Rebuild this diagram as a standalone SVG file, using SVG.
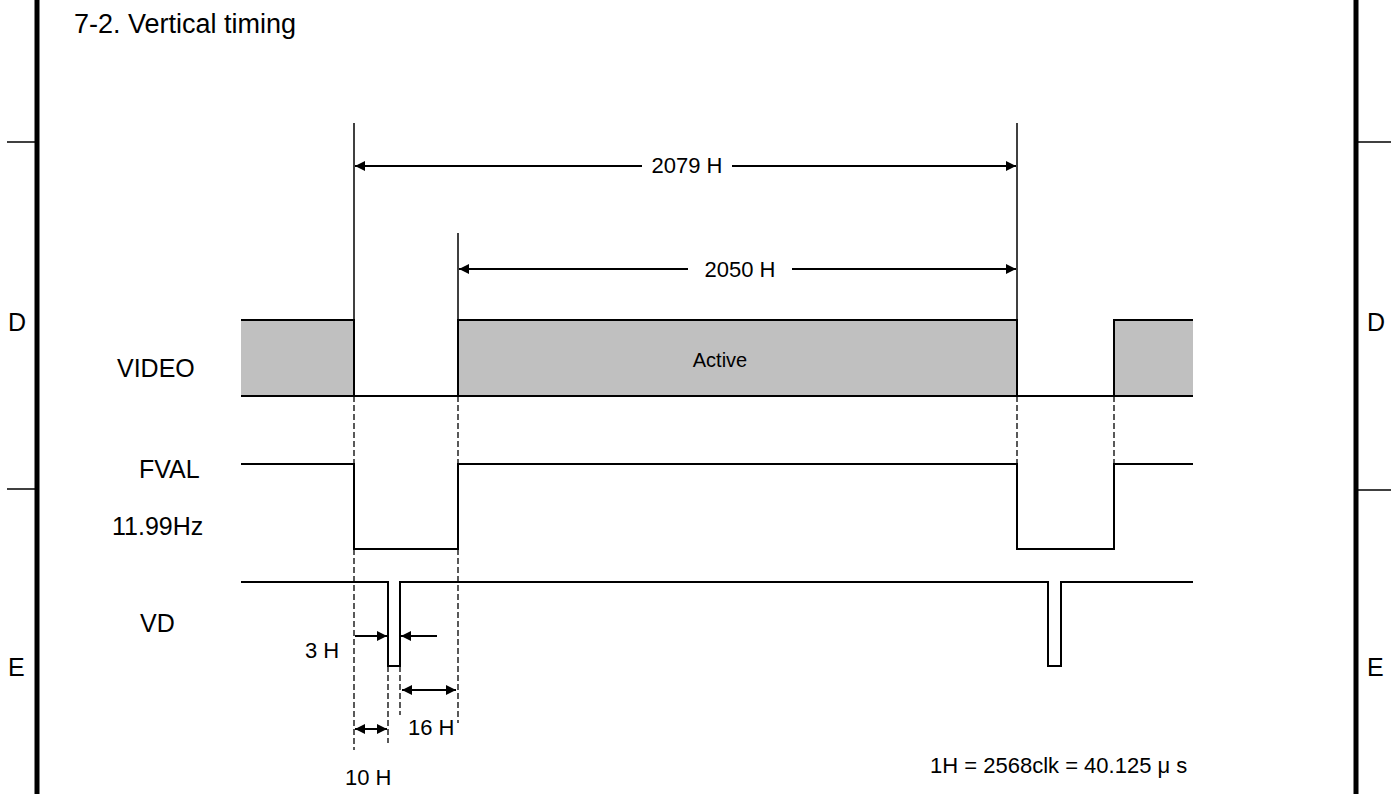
<svg xmlns="http://www.w3.org/2000/svg" width="1400" height="794" viewBox="0 0 1400 794">
<defs>
<marker id="ah" viewBox="0 0 10 10" refX="10" refY="5" markerWidth="12" markerHeight="10" markerUnits="userSpaceOnUse" orient="auto-start-reverse">
<path d="M0,0 L10,5 L0,10 z" fill="#000"/>
</marker>
</defs>
<style>
text{font-family:"Liberation Sans",Arial,sans-serif;fill:#000}
.sig{fill:none;stroke:#000;stroke-width:2}
.fill{fill:#c0c0c0;stroke:none}
.dash{fill:none;stroke:#000;stroke-width:1.3;stroke-dasharray:6,3}
.ext{fill:none;stroke:#000;stroke-width:1.5}
.arr{fill:none;stroke:#000;stroke-width:2}
.frame{stroke:#000;stroke-width:5}
.tick{stroke:#000;stroke-width:1.5}
.t27{font-size:27px}
.t25{font-size:25px}
.t22{font-size:22px}
.t20{font-size:20px}
</style>
<rect width="1400" height="794" fill="#fff"/>
<g id="frame">
<line class="frame" x1="37" y1="0" x2="37" y2="794"/>
<line class="frame" x1="1356" y1="0" x2="1356" y2="794"/>
<line class="tick" x1="7" y1="142" x2="37" y2="142"/>
<line class="tick" x1="7" y1="489" x2="37" y2="489"/>
<line class="tick" x1="1356" y1="142" x2="1391" y2="142"/>
<line class="tick" x1="1356" y1="490" x2="1391" y2="490"/>
<text class="t25" x="8" y="331">D</text>
<text class="t25" x="8" y="676">E</text>
<text class="t25" x="1367" y="331">D</text>
<text class="t25" x="1367" y="676">E</text>
</g>
<text id="title" class="t27" x="74" y="33">7-2. Vertical timing</text>
<g id="labels">
<text class="t25" x="117" y="377">VIDEO</text>
<text class="t25" x="139" y="478">FVAL</text>
<text class="t25" x="112" y="535">11.99Hz</text>
<text class="t25" x="140" y="632">VD</text>
</g>
<g id="video">
<rect class="fill" x="241" y="320" width="113" height="76"/>
<rect class="fill" x="458" y="320" width="559" height="76"/>
<rect class="fill" x="1114" y="320" width="79" height="76"/>
<path class="sig" d="M241,320 H354 V396 M458,396 V320 H1017 V396 M1114,396 V320 H1193 M241,396 H1193"/>
<text class="t20" x="720" y="367" text-anchor="middle">Active</text>
</g>
<g id="fval">
<path class="sig" d="M241,464 H354 V549 H458 V464 H1017 V549 H1114 V464 H1193"/>
</g>
<g id="vd">
<path class="sig" d="M241,582 H388 V666 H400 V582 H1048 V666 H1061 V582 H1193"/>
</g>
<g id="connectors">
<line class="ext" x1="354" y1="123" x2="354" y2="320"/>
<line class="ext" x1="1017" y1="123" x2="1017" y2="320"/>
<line class="ext" x1="458" y1="233" x2="458" y2="320"/>
<line class="dash" x1="354" y1="396" x2="354" y2="464"/>
<line class="dash" x1="354" y1="549" x2="354" y2="750"/>
<line class="dash" x1="458" y1="396" x2="458" y2="464"/>
<line class="dash" x1="458" y1="549" x2="458" y2="723"/>
<line class="dash" x1="1017" y1="396" x2="1017" y2="464"/>
<line class="dash" x1="1114" y1="396" x2="1114" y2="464"/>
<line class="dash" x1="388" y1="666" x2="388" y2="743"/>
<line class="dash" x1="400" y1="666" x2="400" y2="715"/>
<line class="arr" x1="355" y1="166" x2="642" y2="166" marker-start="url(#ah)"/>
<line class="arr" x1="732" y1="166" x2="1016" y2="166" marker-end="url(#ah)"/>
<line class="arr" x1="459" y1="269" x2="688" y2="269" marker-start="url(#ah)"/>
<line class="arr" x1="792" y1="269" x2="1016" y2="269" marker-end="url(#ah)"/>
<line class="arr" x1="355" y1="636" x2="387" y2="636" marker-end="url(#ah)"/>
<line class="arr" x1="437" y1="636" x2="401" y2="636" marker-end="url(#ah)"/>
<line class="arr" x1="402" y1="690" x2="456" y2="690" marker-start="url(#ah)" marker-end="url(#ah)"/>
<line class="arr" x1="355" y1="729" x2="387" y2="729" marker-start="url(#ah)" marker-end="url(#ah)"/>
</g>
<g id="dim-labels">
<text class="t22" x="687" y="173" text-anchor="middle">2079 H</text>
<text class="t22" x="740" y="277" text-anchor="middle">2050 H</text>
<text class="t22" x="305" y="658">3 H</text>
<text class="t22" x="408" y="735">16 H</text>
<text class="t22" x="345" y="785">10 H</text>
<text class="t22" x="930" y="773">1H = 2568clk = 40.125 μ s</text>
</g>
</svg>
